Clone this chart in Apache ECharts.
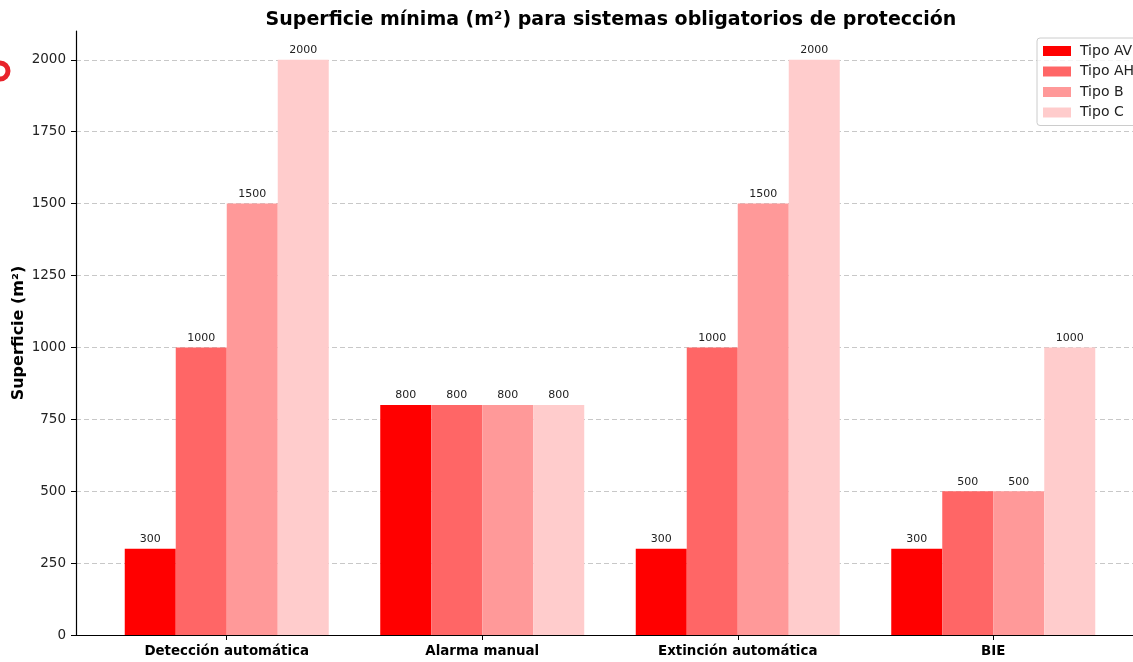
<!DOCTYPE html>
<html>
<head>
<meta charset="utf-8">
<script src="https://cdn.jsdelivr.net/npm/echarts@6/dist/echarts.min.js"></script>
<style>
	html, body { margin: 0; padding: 0; background: #fff; }
	#myChart { width: 1133px; height: 662px; }
</style>
</head>
<body>
<div id="myChart"></div>
<script>
// datos
var categories = ['Detección automática', 'Alarma manual', 'Extinción automática', 'BIE'];
var tipoAV = [300, 800, 300, 300];
var tipoAH = [1000, 800, 1000, 500];
var tipoB = [1500, 800, 1500, 500];
var tipoC = [2000, 800, 2000, 1000];
var yTicks = [0, 250, 500, 750, 1000, 1250, 1500, 1750, 2000];

var seriesNames = ['Tipo AV', 'Tipo AH', 'Tipo B', 'Tipo C'];
var seriesData = [tipoAV, tipoAH, tipoB, tipoC];
var colors = ['#ff0000', '#ff6666', '#ff9999', '#ffcccc'];

var font = 'DejaVu Sans';
var myChart = echarts.init(document.getElementById('myChart'));

var series = seriesNames.map(function (name, k) {
	return {
		name: name,
		type: 'bar',
		barWidth: 51,
		barGap: '0%',
		itemStyle: { color: colors[k] },
		label: {
			show: true,
			position: 'top',
			distance: 4,
			color: '#222',
			fontFamily: font,
			fontSize: 11
		},
		data: seriesData[k].map(function (v, i) { return [i, v]; })
	};
});

var option = {
	backgroundColor: '#fff',
	animation: false,
	title: {
		text: 'Superficie mínima (m²) para sistemas obligatorios de protección',
		left: 606,
		top: 6,
		textAlign: 'center',
		textStyle: { fontFamily: font, fontSize: 19, fontWeight: 'bold', color: '#000' }
	},
	legend: {
		orient: 'vertical',
		left: 1037,
		top: 38,
		padding: [6, 8, 6, 6],
		itemGap: 6.5,
		itemWidth: 28,
		itemHeight: 10,
		icon: 'rect',
		borderColor: '#cccccc',
		borderWidth: 1,
		borderRadius: 3,
		backgroundColor: 'rgba(255,255,255,0.8)',
		textStyle: { fontFamily: font, fontSize: 14, color: '#222', padding: [0, 0, 0, 4] },
		data: seriesNames
	},
	grid: {
		left: 76,
		top: 31,
		width: 1068,
		bottom: 27,
		containLabel: false,
		outerBoundsMode: 'none'
	},
	xAxis: {
		type: 'value',
		min: -0.59,
		max: 3.59,
		axisLine: { show: true, onZero: false, lineStyle: { color: '#000', width: 1.2 } },
		axisTick: { show: true, length: 5, customValues: [0, 1, 2, 3], lineStyle: { color: '#000' } },
		splitLine: { show: false },
		axisLabel: {
			customValues: [0, 1, 2, 3],
			margin: 10,
			fontFamily: font,
			fontSize: 13.4,
			fontWeight: 'bold',
			color: '#000',
			formatter: function (v) { return categories[Math.round(v)]; }
		}
	},
	yAxis: {
		type: 'value',
		min: 0,
		max: 2100,
		name: 'Superficie (m²)',
		nameLocation: 'middle',
		nameGap: 49,
		nameMoveOverlap: false,
		nameTextStyle: { fontFamily: font, fontSize: 16, fontWeight: 'bold', color: '#000' },
		axisLine: { show: true, onZero: false, lineStyle: { color: '#000', width: 1.2 } },
		axisTick: { show: true, length: 5, customValues: yTicks, lineStyle: { color: '#000' } },
		axisLabel: {
			customValues: yTicks,
			margin: 10,
			fontFamily: font,
			fontSize: 13.5,
			color: '#222',
			formatter: function (v) { return String(v); }
		},
		splitLine: { show: true, lineStyle: { color: '#c8c8c8', type: [5, 3], width: 1 } }
	},
	graphic: [{
		type: 'arc',
		shape: { cx: 0, cy: 71, r: 8, startAngle: -Math.PI / 2, endAngle: Math.PI / 2 },
		style: { stroke: '#e8232b', lineWidth: 5, fill: null }
	}],
	series: series
};
myChart.setOption(option);
</script>
</body>
</html>
